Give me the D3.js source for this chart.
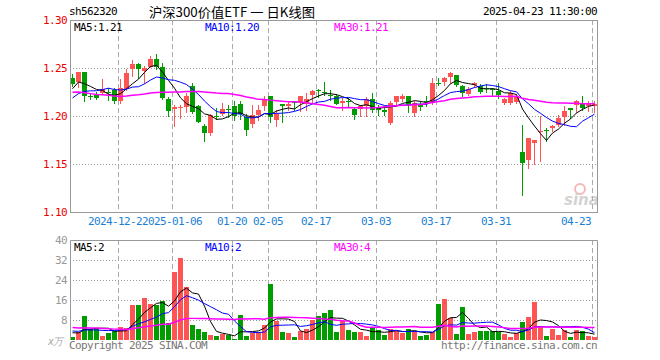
<!DOCTYPE html>
<html>
<head>
<meta charset="utf-8">
<script src="https://cdn.jsdelivr.net/npm/d3@7"></script>
<style>
  body { margin: 0; background: #fff; }
  svg text { font-family: 'DejaVu Sans Mono', monospace; font-size: 11px; letter-spacing: -0.62px; }
</style>
</head>
<body>
<script>
'use strict';

// trading days shown (2024-12-11 .. 2025-04-23)
const dates = [
  '2024-12-11','2024-12-12','2024-12-13','2024-12-16','2024-12-17','2024-12-18','2024-12-19','2024-12-20',
  '2024-12-23','2024-12-24','2024-12-25','2024-12-26','2024-12-27','2024-12-30','2024-12-31','2025-01-02',
  '2025-01-03','2025-01-06','2025-01-07','2025-01-08','2025-01-09','2025-01-10','2025-01-13','2025-01-14',
  '2025-01-15','2025-01-16','2025-01-17','2025-01-20','2025-01-21','2025-01-22','2025-01-23','2025-01-24',
  '2025-01-27','2025-02-05','2025-02-06','2025-02-07','2025-02-10','2025-02-11','2025-02-12','2025-02-13',
  '2025-02-14','2025-02-17','2025-02-18','2025-02-19','2025-02-20','2025-02-21','2025-02-24','2025-02-25',
  '2025-02-26','2025-02-27','2025-02-28','2025-03-03','2025-03-04','2025-03-05','2025-03-06','2025-03-07',
  '2025-03-10','2025-03-11','2025-03-12','2025-03-13','2025-03-14','2025-03-17','2025-03-18','2025-03-19',
  '2025-03-20','2025-03-21','2025-03-24','2025-03-25','2025-03-26','2025-03-27','2025-03-28','2025-03-31',
  '2025-04-01','2025-04-02','2025-04-03','2025-04-07','2025-04-08','2025-04-09','2025-04-10','2025-04-11',
  '2025-04-14','2025-04-15','2025-04-16','2025-04-17','2025-04-18','2025-04-21','2025-04-22','2025-04-23'
];

const openP = [
  1.2396,1.2347,1.2454,1.2208,1.2229,1.2243,1.2252,1.2269,1.2152,1.2279,1.2493,1.2545,1.2475,1.2517,1.2591,1.2513,
  1.2180,1.2081,1.2081,1.2086,1.2316,1.2107,1.1899,1.1816,1.2005,1.2024,1.2068,1.2102,1.2123,1.1990,1.1909,1.2010,
  1.2107,1.2211,1.1961,1.2122,1.2100,1.2142,1.2135,1.2128,1.2222,1.2266,1.2254,1.2219,1.2211,1.2139,1.2155,1.2069,
  1.2073,1.2100,1.2177,1.2081,1.2066,1.1927,1.2152,1.2170,1.2211,1.2031,1.2125,1.2155,1.2135,1.2348,1.2357,1.2399,
  1.2422,1.2316,1.2229,1.2319,1.2313,1.2290,1.2278,1.2264,1.2135,1.2135,1.2146,1.1625,1.1545,1.1720,1.1835,1.1852,
  1.1881,1.1909,1.1996,1.2083,1.2118,1.2138,1.2100,1.2105
];
const highP = [
  1.2441,1.2462,1.2458,1.2228,1.2253,1.2385,1.2295,1.2292,1.2385,1.2488,1.2586,1.2550,1.2517,1.2623,1.2644,1.2550,
  1.2201,1.2118,1.2115,1.2238,1.2342,1.2118,1.1920,1.2019,1.2080,1.2138,1.2110,1.2154,1.2154,1.2024,1.2110,1.2110,
  1.2211,1.2213,1.2058,1.2124,1.2159,1.2159,1.2213,1.2240,1.2274,1.2284,1.2350,1.2267,1.2232,1.2187,1.2187,1.2083,
  1.2118,1.2198,1.2240,1.2112,1.2083,1.2152,1.2213,1.2229,1.2213,1.2152,1.2159,1.2204,1.2396,1.2392,1.2402,1.2458,
  1.2430,1.2326,1.2298,1.2357,1.2331,1.2336,1.2292,1.2344,1.2187,1.2256,1.2222,1.1909,1.1775,1.1755,1.2003,1.1878,
  1.1909,1.2006,1.2100,1.2085,1.2165,1.2204,1.2152,1.2152
];
const lowP = [
  1.2308,1.2298,1.2152,1.2177,1.2181,1.2232,1.2163,1.2135,1.2138,1.2274,1.2420,1.2400,1.2344,1.2506,1.2487,1.2180,
  1.2003,1.1899,1.1982,1.2040,1.2034,1.1933,1.1743,1.1805,1.1965,1.2014,1.1990,1.1956,1.1969,1.1805,1.1885,1.1961,
  1.2066,1.1933,1.1899,1.1933,1.2066,1.2058,1.2048,1.2066,1.2138,1.2198,1.2215,1.2163,1.2121,1.2066,1.2094,1.1969,
  1.2003,1.2003,1.2038,1.2006,1.2006,1.1913,1.2118,1.2152,1.2038,1.1996,1.2066,1.2100,1.2123,1.2322,1.2319,1.2344,
  1.2308,1.2204,1.2215,1.2305,1.2235,1.2245,1.2204,1.2183,1.2125,1.2128,1.2135,1.1180,1.1458,1.1500,1.1527,1.1743,
  1.1840,1.1899,1.1909,1.1979,1.2042,1.2066,1.2048,1.2045
];
const closeP = [
  1.2333,1.2454,1.2204,1.2203,1.2188,1.2284,1.2248,1.2152,1.2292,1.2444,1.2545,1.2488,1.2503,1.2597,1.2508,1.2188,
  1.2058,1.2097,1.2094,1.2204,1.2048,1.1944,1.1823,1.2008,1.2001,1.2073,1.2065,1.2003,1.2024,1.1850,1.2006,1.2058,
  1.2180,1.1988,1.2024,1.2100,1.2125,1.2128,1.2211,1.2177,1.2264,1.2260,1.2248,1.2213,1.2128,1.2160,1.2148,1.2003,
  1.2100,1.2177,1.2058,1.2060,1.2048,1.2135,1.2211,1.2204,1.2115,1.2135,1.2095,1.2150,1.2347,1.2340,1.2399,1.2444,
  1.2316,1.2246,1.2282,1.2344,1.2253,1.2280,1.2270,1.2227,1.2180,1.2238,1.2204,1.1510,1.1771,1.1753,1.1845,1.1845,
  1.1899,1.1979,1.2055,1.2066,1.2159,1.2085,1.2135,1.2128
];
// volume, in 万
const volume = [
  1.3,3.1,9.7,4.5,4.7,1.7,2.9,3.6,5.2,5.0,14.0,14.0,16.9,14.4,14.0,15.6,
  6.7,27.3,32.9,21.3,6.0,4.4,3.2,2.0,1.6,2.4,2.0,0.4,10.0,1.6,2.9,3.3,
  6.0,22.4,7.6,3.1,2.7,1.2,3.6,4.3,8.0,9.6,10.8,12.0,3.3,7.7,4.0,3.3,
  3.1,1.6,4.7,4.0,2.0,4.4,3.6,2.9,4.4,3.6,1.6,2.0,3.1,14.4,16.4,8.7,
  2.4,13.2,2.4,3.2,3.6,3.6,3.6,3.3,2.4,1.3,2.7,7.2,9.3,15.2,5.6,1.6,
  4.4,2.0,4.0,1.2,4.0,3.6,1.6,1.2
];

// sessions before the window (not drawn, only feed the moving averages)
const closesBefore = [
  1.236,1.242,1.248,1.245,1.240,1.238,1.242,1.238,
  1.232,1.228,1.234,1.230,1.229,1.233,
  1.212,1.205,1.203,1.207,1.204,1.205,
  1.200,1.198,1.214,1.218,1.216,
  1.2104,1.2294,1.2343,1.2346
];
const volumesBefore = [
  7.5,6.8,7.2,6.5,7.0,7.4,6.9,7.1,6.6,
  4.8,4.5,4.2,5.0,4.6,4.4,4.7,4.9,4.3,4.6,4.6,
  4.5,4.0,4.8,4.2,4.0,
  3.5,3.0,3.5,3.2
];

const priceTicks = [1.30, 1.25, 1.20, 1.15, 1.10];
const volTicks = [40, 32, 24, 16, 8];
const labelDates = ['2024-12-23','2025-01-06','2025-01-20','2025-02-05','2025-02-17','2025-03-03','2025-03-17','2025-03-31','2025-04-23'];
const labelTexts = ['2024-12-23','2025-01-06','01-20','02-05','02-17','03-03','03-17','03-31','04-23'];

const maPeriods = [5, 10, 30];
const maColors = ['#000000', '#0000ff', '#ff00ff'];

const RED = '#ff5454', GREEN = '#009c00';
const left = 70, right = 597;
const pTop = 20, pBottom = 212, vTop = 240, vBottom = 340;

function movingAvg(values, before, n) {
  const all = before.concat(values);
  const k = before.length;
  return values.map((v, i) => d3.mean(all.slice(k + i - n + 1, k + i + 1)));
}

const svg = d3.select('body').append('svg')
  .attr('width', 660).attr('height', 360);

const idx = d3.range(dates.length);
const x = d3.scaleBand().domain(idx).range([left, right]).paddingInner(1 / 6).paddingOuter(0);
const bw = x.bandwidth();
const yP = d3.scaleLinear().domain([1.10, 1.30]).range([pBottom, pTop]);
const yV = d3.scaleLinear().domain([0, 40]).range([vBottom, vTop]);

const isUp = (i) => closeP[i] >= openP[i];
const crisp = (v) => Math.round(v) + 0.5;

// ---- header
svg.append('text').attr('x', 69).attr('y', 15).text('sh562320');
svg.append('text').attr('x', 149).attr('y', 17)
  .style('font-family', "'Noto Sans CJK SC', sans-serif").style('font-size', '13px').style('letter-spacing', '0px')
  .attr('textLength', 166).attr('lengthAdjust', 'spacingAndGlyphs')
  .text('沪深300价值ETF 一 日K线图');
svg.append('text').attr('x', 597).attr('y', 15).attr('text-anchor', 'end').text('2025-04-23 11:30:00');

// ---- grids (both panels)
const tickIdx = labelDates.map((d) => dates.indexOf(d));
[[pTop, pBottom], [vTop, vBottom]].forEach(([t, b]) => {
  svg.append('g').selectAll('line').data(tickIdx).enter().append('line')
    .attr('x1', (i) => x(i) + 0.5).attr('x2', (i) => x(i) + 0.5)
    .attr('y1', t).attr('y2', b)
    .attr('stroke', '#aaa').attr('stroke-dasharray', '5,3');
});

svg.append('g').selectAll('line').data(priceTicks.slice(1, -1)).enter().append('line')
  .attr('x1', left).attr('x2', right)
  .attr('y1', (d) => crisp(yP(d))).attr('y2', (d) => crisp(yP(d)))
  .attr('stroke', '#999').attr('stroke-dasharray', '1,2');
svg.append('g').selectAll('line').data(volTicks.slice(1)).enter().append('line')
  .attr('x1', left).attr('x2', right)
  .attr('y1', (d) => crisp(yV(d))).attr('y2', (d) => crisp(yV(d)))
  .attr('stroke', '#999').attr('stroke-dasharray', '1,2');

// sina watermark
const wm = svg.append('g').attr('opacity', 0.55);
wm.append('circle').attr('cx', 580).attr('cy', 189).attr('r', 5)
  .attr('fill', 'none').attr('stroke', '#f08080').attr('stroke-width', 2);
wm.append('text').attr('x', 564).attr('y', 205)
  .style('font-family', "'DejaVu Sans', sans-serif").style('font-size', '15px')
  .style('font-weight', 'bold').style('font-style', 'italic').style('letter-spacing', '0px')
  .attr('fill', '#b0b0b0').text('sina');

// ---- axis labels
svg.append('g').selectAll('text').data(priceTicks).enter().append('text')
  .attr('x', 67).attr('y', (d) => yP(d) + 4).attr('text-anchor', 'end')
  .attr('fill', '#ee0000').text((d) => d.toFixed(2));
svg.append('g').selectAll('text').data(volTicks).enter().append('text')
  .attr('x', 67).attr('y', (d) => yV(d) + 4).attr('text-anchor', 'end')
  .attr('fill', '#999').text((d) => d);
svg.append('text').attr('x', 48).attr('y', 345).attr('fill', '#aaa')
  .style('font-style', 'italic').style('font-size', '10px').text('x万');

// date labels: each one sits on a white plate, so a later label covers an earlier one
const labelX = (i, k) => Math.min(x(i), 591 - labelTexts[k].length * 3);
const dateLabels = svg.append('g').selectAll('g').data(tickIdx).enter().append('g');
dateLabels.append('rect')
  .attr('x', (i, k) => labelX(i, k) - labelTexts[k].length * 3)
  .attr('y', 215).attr('width', (i, k) => labelTexts[k].length * 6).attr('height', 12)
  .attr('fill', '#fff');
dateLabels.append('text')
  .attr('x', labelX).attr('y', 225).attr('text-anchor', 'middle')
  .attr('fill', '#1a7fd4').text((i, k) => labelTexts[k]);

// ---- candles
const candles = svg.append('g');
candles.selectAll('line').data(idx).enter().append('line')
  .attr('x1', (i) => x(i) + bw / 2).attr('x2', (i) => x(i) + bw / 2)
  .attr('y1', (i) => Math.round(yP(highP[i]))).attr('y2', (i) => Math.round(yP(lowP[i])) + 1)
  .attr('stroke', (i) => isUp(i) ? RED : GREEN);
candles.selectAll('rect').data(idx).enter().append('rect')
  .attr('x', (i) => x(i)).attr('width', bw)
  .attr('y', (i) => Math.round(yP(Math.max(openP[i], closeP[i]))))
  .attr('height', (i) => Math.max(1, Math.round(Math.abs(yP(openP[i]) - yP(closeP[i])))))
  .attr('fill', (i) => isUp(i) ? RED : GREEN);

// ---- volume bars
svg.append('g').selectAll('rect').data(idx).enter().append('rect')
  .attr('x', (i) => x(i)).attr('width', bw)
  .attr('y', (i) => Math.round(yV(volume[i])))
  .attr('height', (i) => vBottom - Math.round(yV(volume[i])))
  .attr('fill', (i) => isUp(i) ? RED : GREEN);

// ---- moving averages
const priceMA = maPeriods.map((n) => movingAvg(closeP, closesBefore, n));
const volMA = maPeriods.map((n) => movingAvg(volume, volumesBefore, n));

const linePrice = d3.line().x((d, i) => x(i) + bw / 2).y((d) => yP(d));
const lineVol = d3.line().x((d, i) => x(i) + bw / 2).y((d) => yV(d));

priceMA.forEach((ma, k) => {
  svg.append('path').datum(ma).attr('d', linePrice)
    .attr('fill', 'none').attr('stroke', maColors[k]).attr('stroke-width', k === 2 ? 1.5 : 1);
});
volMA.forEach((ma, k) => {
  svg.append('path').datum(ma).attr('d', lineVol)
    .attr('fill', 'none').attr('stroke', maColors[k]).attr('stroke-width', k === 2 ? 1.5 : 1);
});

// ---- frames
svg.append('rect').attr('x', left + 0.5).attr('y', pTop + 0.5)
  .attr('width', right - left).attr('height', pBottom - pTop)
  .attr('fill', 'none').attr('stroke', '#999');
svg.append('path')
  .attr('d', `M${left + 0.5},${vBottom}V${vTop + 0.5}H${right + 0.5}V${vBottom}`)
  .attr('fill', 'none').attr('stroke', '#999');

// ---- legends
const maLabelX = [74, 205, 334];
maPeriods.forEach((n, k) => {
  const last = priceMA[k][priceMA[k].length - 1];
  svg.append('text').attr('x', maLabelX[k]).attr('y', 31).attr('fill', maColors[k])
    .text('MA' + n + ':' + last.toFixed(2));
  const lastV = volMA[k][volMA[k].length - 1];
  svg.append('text').attr('x', maLabelX[k]).attr('y', 251).attr('fill', maColors[k])
    .text('MA' + n + ':' + Math.floor(lastV));
});

// ---- footer
svg.append('text').attr('x', 69).attr('y', 349).attr('fill', '#777').text('Copyright 2025 SINA.COM');
svg.append('text').attr('x', 597).attr('y', 349).attr('text-anchor', 'end').attr('fill', '#777')
  .text('http://finance.sina.com.cn');
</script>
</body>
</html>
